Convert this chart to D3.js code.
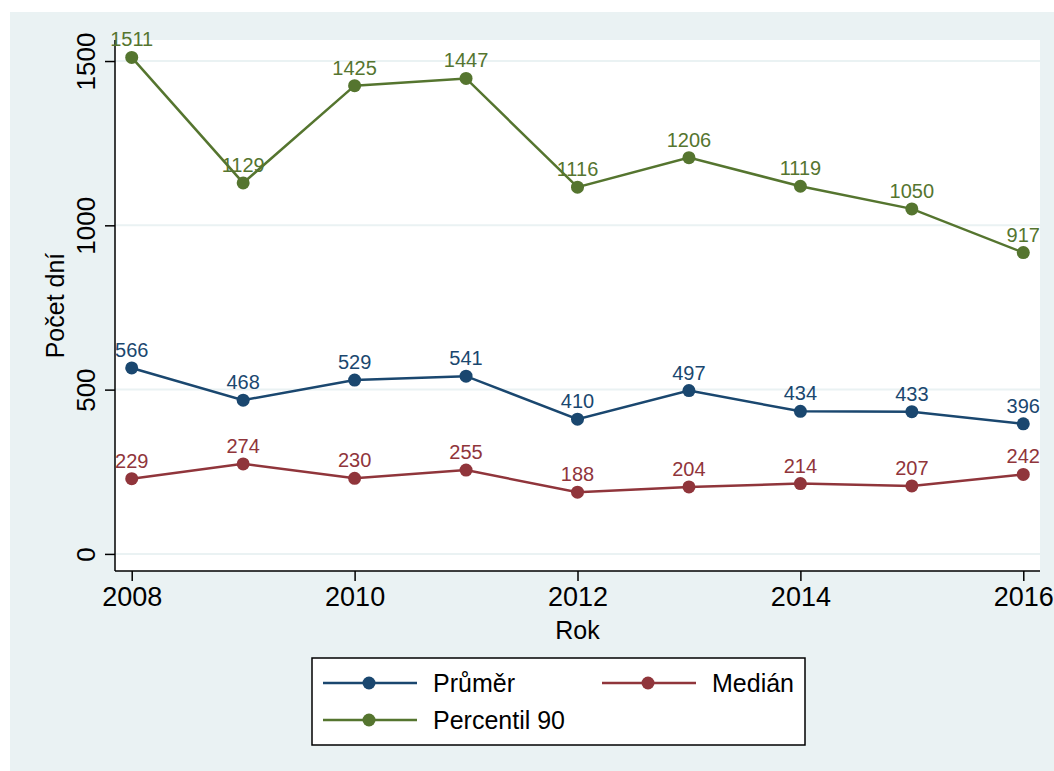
<!DOCTYPE html>
<html>
<head>
<meta charset="utf-8">
<script src="https://cdn.jsdelivr.net/npm/d3@7"></script>
<style>
  body { margin: 0; background: #fff; }
  svg { display: block; font-family: "Liberation Sans", Arial, sans-serif; }
</style>
</head>
<body>
<div id="chart"></div>
<script>
// Data
const years = [2008, 2009, 2010, 2011, 2012, 2013, 2014, 2015, 2016];
const prumer = [566, 468, 529, 541, 410, 497, 434, 433, 396];
const median = [229, 274, 230, 255, 188, 204, 214, 207, 242];
const percentil90 = [1511, 1129, 1425, 1447, 1116, 1206, 1119, 1050, 917];
const yTicks = [0, 500, 1000, 1500];
const xTicks = [2008, 2010, 2012, 2014, 2016];

const series = [
  { name: "Průměr", values: prumer, color: "#1a476f" },
  { name: "Medián", values: median, color: "#90353b" },
  { name: "Percentil 90", values: percentil90, color: "#55752f" }
];

const width = 1054, height = 771;
const plot = { left: 115, right: 1040, top: 40, bottom: 571 };

const svg = d3.select("#chart").append("svg")
  .attr("width", width)
  .attr("height", height);

// graph region background
svg.append("rect")
  .attr("x", 10).attr("y", 12)
  .attr("width", width - 10).attr("height", height - 12)
  .attr("fill", "#eaf2f3");

svg.append("rect")
  .attr("x", plot.left).attr("y", plot.top)
  .attr("width", plot.right - plot.left).attr("height", plot.bottom - plot.top)
  .attr("fill", "#fff");

// Scales
const x = d3.scaleLinear()
  .domain([2007.85, 2016.15])
  .range([plot.left, plot.right]);

const y = d3.scaleLinear()
  .domain([-52, 1564])
  .range([plot.bottom, plot.top]);

// gridlines
svg.append("g")
  .selectAll("line")
  .data(yTicks)
  .enter().append("line")
  .attr("x1", plot.left).attr("x2", plot.right)
  .attr("y1", d => y(d)).attr("y2", d => y(d))
  .attr("stroke", "#eaf2f3")
  .attr("stroke-width", 2);

// Axes
const yAxis = svg.append("g")
  .attr("transform", `translate(${plot.left},0)`)
  .call(d3.axisLeft(y).tickValues(yTicks).tickFormat(d3.format("d")).tickSize(10).tickPadding(10).tickSizeOuter(0));
yAxis.select(".domain").attr("stroke", "#000").attr("stroke-width", 1.5)
  .attr("d", `M0,${plot.top}V${plot.bottom}`);
yAxis.selectAll(".tick line").attr("stroke", "#000").attr("stroke-width", 1.5);
yAxis.selectAll(".tick text")
  .attr("font-size", 26)
  .attr("fill", "#000")
  .attr("text-anchor", "middle")
  .attr("dy", 0)
  .attr("x", 0)
  .attr("transform", "translate(-20,0) rotate(-90)");

const xAxis = svg.append("g")
  .attr("transform", `translate(0,${plot.bottom})`)
  .call(d3.axisBottom(x).tickValues(xTicks).tickFormat(d3.format("d")).tickSize(10).tickPadding(6).tickSizeOuter(0));
xAxis.select(".domain").attr("stroke", "#000").attr("stroke-width", 1.5)
  .attr("d", `M${plot.left},0H${plot.right}`);
xAxis.selectAll(".tick line").attr("stroke", "#000").attr("stroke-width", 1.5);
xAxis.selectAll(".tick text")
  .attr("font-size", 27)
  .attr("fill", "#000");

// axis titles
svg.append("text")
  .attr("transform", `translate(64,${(plot.top + plot.bottom) / 2}) rotate(-90)`)
  .attr("text-anchor", "middle")
  .attr("font-size", 25)
  .text("Počet dní");

svg.append("text")
  .attr("x", (plot.left + plot.right) / 2)
  .attr("y", 639)
  .attr("text-anchor", "middle")
  .attr("font-size", 25)
  .text("Rok");

// Lines, markers, labels
const line = d3.line()
  .x((d, i) => x(years[i]))
  .y(d => y(d));

series.forEach(s => {
  const g = svg.append("g");
  g.append("path")
    .datum(s.values)
    .attr("d", line)
    .attr("fill", "none")
    .attr("stroke", s.color)
    .attr("stroke-width", 2.5);
  g.selectAll("circle")
    .data(s.values)
    .enter().append("circle")
    .attr("cx", (d, i) => x(years[i]))
    .attr("cy", d => y(d))
    .attr("r", 6.5)
    .attr("fill", s.color);
  g.selectAll("text")
    .data(s.values)
    .enter().append("text")
    .attr("x", (d, i) => x(years[i]))
    .attr("y", d => y(d) - 11)
    .attr("text-anchor", "middle")
    .attr("font-size", 20)
    .attr("fill", s.color)
    .text(d => d);
});

// Legend
const legend = svg.append("g");
legend.append("rect")
  .attr("x", 312).attr("y", 658)
  .attr("width", 493).attr("height", 87)
  .attr("fill", "#fff")
  .attr("stroke", "#000")
  .attr("stroke-width", 1.5);

const legendPos = [
  { lx: 323, ty: 683 },
  { lx: 602, ty: 683 },
  { lx: 323, ty: 720 }
];

series.forEach((s, i) => {
  const p = legendPos[i];
  legend.append("line")
    .attr("x1", p.lx).attr("x2", p.lx + 94)
    .attr("y1", p.ty).attr("y2", p.ty)
    .attr("stroke", s.color)
    .attr("stroke-width", 2.5);
  legend.append("circle")
    .attr("cx", p.lx + 46).attr("cy", p.ty)
    .attr("r", 6.5)
    .attr("fill", s.color);
  legend.append("text")
    .attr("x", p.lx + 110)
    .attr("y", p.ty + 9)
    .attr("font-size", 25)
    .attr("fill", "#000")
    .text(s.name);
});
</script>
</body>
</html>
